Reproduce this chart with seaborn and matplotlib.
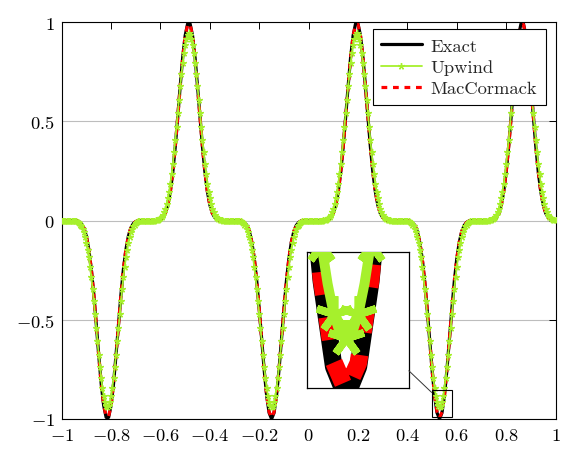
import numpy as np
import pandas as pd
import matplotlib
matplotlib.use("Agg")
import matplotlib.pyplot as plt
from matplotlib.patches import Rectangle
from matplotlib.ticker import FuncFormatter
import seaborn as sns

# sample positions
x_pts = np.round(np.linspace(-1, 1, 201), 3)   # exact / MacCormack, step 0.01
x_up = np.round(np.linspace(-1, 1, 401), 3)    # upwind, step 0.005

# values
exact = [
    0, 0, 0, 0, 0, 0, -0.001, -0.005, -0.015, -0.037,
    -0.079, -0.147, -0.245, -0.373, -0.522, -0.678, -0.822, -0.932, -0.992, -0.992,
    -0.932, -0.822, -0.678, -0.522, -0.373, -0.245, -0.147, -0.079, -0.037, -0.015,
    -0.005, -0.001, 0, 0, 0, 0, 0, 0, 0, 0.001,
    0.005, 0.015, 0.037, 0.079, 0.147, 0.245, 0.373, 0.522, 0.678, 0.822,
    0.932, 0.992, 0.992, 0.932, 0.822, 0.678, 0.522, 0.373, 0.245, 0.147,
    0.079, 0.037, 0.015, 0.005, 0.001, 0, 0, 0, 0, 0,
    0, 0, 0, -0.002, -0.009, -0.024, -0.055, -0.109, -0.192, -0.306,
    -0.446, -0.601, -0.753, -0.882, -0.969, -1.0, -0.969, -0.882, -0.753, -0.601,
    -0.446, -0.306, -0.192, -0.109, -0.055, -0.024, -0.009, -0.002, 0, 0,
    0, 0, 0, 0, 0, 0, 0, 0.001, 0.005, 0.015,
    0.037, 0.079, 0.147, 0.245, 0.373, 0.522, 0.678, 0.822, 0.932, 0.992,
    0.992, 0.932, 0.822, 0.678, 0.522, 0.373, 0.245, 0.147, 0.079, 0.037,
    0.015, 0.005, 0.001, 0, 0, 0, 0, 0, 0, 0,
    0, -0.002, -0.009, -0.024, -0.055, -0.109, -0.192, -0.306, -0.446, -0.601,
    -0.753, -0.882, -0.969, -1.0, -0.969, -0.882, -0.753, -0.601, -0.446, -0.306,
    -0.192, -0.109, -0.055, -0.024, -0.009, -0.002, 0, 0, 0, 0,
    0, 0, 0, 0, 0.001, 0.005, 0.015, 0.037, 0.079, 0.147,
    0.245, 0.373, 0.522, 0.678, 0.822, 0.932, 0.992, 0.992, 0.932, 0.822,
    0.678, 0.522, 0.373, 0.245, 0.147, 0.079, 0.037, 0.015, 0.005, 0.001,
    0,
]

maccormack = [
    0, 0, 0, 0, 0, 0.001, -0.001, -0.006, -0.016, -0.038,
    -0.080, -0.148, -0.246, -0.374, -0.522, -0.677, -0.820, -0.928, -0.986, -0.988,
    -0.930, -0.821, -0.678, -0.523, -0.374, -0.246, -0.147, -0.079, -0.037, -0.015,
    -0.005, -0.001, 0, 0, 0, 0, 0, 0, 0, 0.001,
    0.005, 0.015, 0.037, 0.079, 0.147, 0.245, 0.373, 0.521, 0.676, 0.820,
    0.929, 0.987, 0.988, 0.930, 0.821, 0.678, 0.522, 0.373, 0.245, 0.147,
    0.079, 0.037, 0.015, 0.005, 0.001, 0, 0, 0, 0, 0,
    0, 0, 0, -0.002, -0.009, -0.024, -0.055, -0.109, -0.192, -0.305,
    -0.445, -0.600, -0.751, -0.879, -0.964, -0.993, -0.965, -0.880, -0.752, -0.601,
    -0.446, -0.306, -0.192, -0.109, -0.055, -0.024, -0.009, -0.002, 0, 0,
    0, 0, 0, 0, 0, 0, 0, 0.001, 0.005, 0.015,
    0.037, 0.079, 0.147, 0.245, 0.373, 0.521, 0.676, 0.820, 0.929, 0.987,
    0.988, 0.930, 0.821, 0.678, 0.522, 0.373, 0.245, 0.147, 0.079, 0.037,
    0.015, 0.005, 0.001, 0, 0, 0, 0, 0, 0, 0,
    0, -0.002, -0.009, -0.024, -0.055, -0.109, -0.192, -0.305, -0.445, -0.600,
    -0.751, -0.879, -0.964, -0.993, -0.965, -0.880, -0.752, -0.601, -0.446, -0.306,
    -0.192, -0.109, -0.055, -0.024, -0.009, -0.002, 0, 0, 0, 0,
    0, 0, 0, 0, 0.001, 0.005, 0.015, 0.037, 0.079, 0.147,
    0.245, 0.373, 0.521, 0.676, 0.820, 0.929, 0.987, 0.988, 0.930, 0.821,
    0.678, 0.522, 0.373, 0.245, 0.147, 0.079, 0.037, 0.015, 0.005, 0.001,
    0,
]

upwind = [
    # x = -1.000 ... -0.955
    0, 0, 0, 0, 0, 0, 0, 0, 0, 0,
    # trough near -0.815
    -0.001, -0.002, -0.004, -0.008, -0.012, -0.020, -0.029, -0.043, -0.060, -0.084,
    -0.112, -0.146, -0.185, -0.233, -0.285, -0.344, -0.407, -0.472, -0.540, -0.608,
    -0.677, -0.737, -0.793, -0.844, -0.884, -0.915, -0.934, -0.940, -0.934, -0.915,
    -0.884, -0.844, -0.793, -0.737, -0.677, -0.608, -0.540, -0.472, -0.407, -0.344,
    -0.285, -0.233, -0.185, -0.146, -0.112, -0.084, -0.060, -0.043, -0.029, -0.020,
    -0.012, -0.008, -0.004, -0.002, -0.001,
    0, 0, 0, 0, 0, 0, 0, 0, 0, 0, 0,
    # peak near -0.485
    0.001, 0.002, 0.004, 0.008, 0.012, 0.020, 0.029, 0.043, 0.060, 0.084,
    0.112, 0.146, 0.185, 0.233, 0.285, 0.344, 0.407, 0.472, 0.540, 0.608,
    0.677, 0.737, 0.793, 0.844, 0.884, 0.915, 0.934, 0.945, 0.934, 0.915,
    0.884, 0.844, 0.793, 0.737, 0.677, 0.608, 0.540, 0.472, 0.407, 0.344,
    0.285, 0.233, 0.185, 0.146, 0.112, 0.084, 0.060, 0.043, 0.029, 0.020,
    0.012, 0.008, 0.004, 0.002, 0.001,
    0, 0, 0, 0, 0, 0, 0, 0, 0, 0, 0, 0,
    # trough near -0.15
    -0.001, -0.002, -0.004, -0.008, -0.012, -0.020, -0.029, -0.043, -0.060, -0.084,
    -0.112, -0.146, -0.185, -0.233, -0.285, -0.344, -0.407, -0.472, -0.540, -0.608,
    -0.677, -0.737, -0.793, -0.844, -0.884, -0.915, -0.934, -0.940, -0.934, -0.915,
    -0.884, -0.844, -0.793, -0.737, -0.677, -0.608, -0.540, -0.472, -0.407, -0.344,
    -0.285, -0.233, -0.185, -0.146, -0.112, -0.084, -0.060, -0.043, -0.029, -0.020,
    -0.012, -0.008, -0.004, -0.002, -0.001,
    0, 0, 0, 0, 0, 0, 0, 0, 0, 0, 0, 0, 0, 0,
    # peak near 0.195
    0.001, 0.002, 0.004, 0.008, 0.012, 0.020, 0.029, 0.043, 0.060, 0.084,
    0.112, 0.146, 0.185, 0.233, 0.285, 0.344, 0.407, 0.472, 0.540, 0.608,
    0.677, 0.737, 0.793, 0.844, 0.884, 0.915, 0.934, 0.945, 0.934, 0.915,
    0.884, 0.844, 0.793, 0.737, 0.677, 0.608, 0.540, 0.472, 0.407, 0.344,
    0.285, 0.233, 0.185, 0.146, 0.112, 0.084, 0.060, 0.043, 0.029, 0.020,
    0.012, 0.008, 0.004, 0.002, 0.001,
    0, 0, 0, 0, 0, 0, 0, 0, 0, 0, 0, 0,
    # trough near 0.53
    -0.001, -0.002, -0.004, -0.008, -0.012, -0.020, -0.029, -0.043, -0.060, -0.084,
    -0.112, -0.146, -0.185, -0.233, -0.285, -0.344, -0.407, -0.472, -0.540, -0.608,
    -0.677, -0.737, -0.793, -0.844, -0.884, -0.915, -0.934, -0.940, -0.934, -0.915,
    -0.884, -0.844, -0.793, -0.737, -0.677, -0.608, -0.540, -0.472, -0.407, -0.344,
    -0.285, -0.233, -0.185, -0.146, -0.112, -0.084, -0.060, -0.043, -0.029, -0.020,
    -0.012, -0.008, -0.004, -0.002, -0.001,
    0, 0, 0, 0, 0, 0, 0, 0, 0, 0, 0, 0,
    # peak near 0.865
    0.001, 0.002, 0.004, 0.008, 0.012, 0.020, 0.029, 0.043, 0.060, 0.084,
    0.112, 0.146, 0.185, 0.233, 0.285, 0.344, 0.407, 0.472, 0.540, 0.608,
    0.677, 0.737, 0.793, 0.844, 0.884, 0.915, 0.934, 0.945, 0.934, 0.915,
    0.884, 0.844, 0.793, 0.737, 0.677, 0.608, 0.540, 0.472, 0.407, 0.344,
    0.285, 0.233, 0.185, 0.146, 0.112, 0.084, 0.060, 0.043, 0.029, 0.020,
    0.012, 0.008, 0.004, 0.002, 0.001,
]

x_ticks = [-1, -0.8, -0.6, -0.4, -0.2, 0, 0.2, 0.4, 0.6, 0.8, 1]
y_ticks = [-1, -0.5, 0, 0.5, 1]

GREEN = '#A6F02C'

sns.set_theme(style='white')
plt.rcParams['font.family'] = 'serif'
plt.rcParams['font.serif'] = ['cmr10', 'DejaVu Serif']
plt.rcParams['mathtext.fontset'] = 'cm'
plt.rcParams['axes.formatter.use_mathtext'] = True

df = pd.DataFrame({'x': x_pts, 'Exact': exact, 'MacCormack': maccormack})
df_up = pd.DataFrame({'x': x_up, 'Upwind': upwind})


def draw_curves(ax, k, dash, every, with_labels):
    lab = (lambda s: s) if with_labels else (lambda s: None)
    sns.lineplot(data=df, x='x', y='Exact', ax=ax, color='black', lw=2.3 * k,
                 label=lab('Exact'), legend=False, zorder=2)
    sns.lineplot(data=df, x='x', y='MacCormack', ax=ax, color='#FF0000', lw=2.3 * k,
                 linestyle=(0, dash), label=lab('MacCormack'), legend=False, zorder=3)
    sns.lineplot(data=df_up, x='x', y='Upwind', ax=ax, color=GREEN, lw=1.3 * k,
                 marker=(5, 2, 0), markersize=4.8 * k, markeredgewidth=1.0 * k,
                 markeredgecolor=GREEN, markerfacecolor=GREEN, markevery=every,
                 label=lab('Upwind'), legend=False, zorder=4)


fig = plt.figure(figsize=(5.69, 4.52), dpi=100)
ax = fig.add_axes([0.1084, 0.0708, 0.868, 0.878])

draw_curves(ax, 1, (1.8, 1.8), 1, True)

ax.set_xlim(-1, 1)
ax.set_ylim(-1, 1)
ax.set_xticks(x_ticks)
ax.set_yticks(y_ticks)
fmt = FuncFormatter(lambda v, p: f'${v:g}$')
ax.xaxis.set_major_formatter(fmt)
ax.yaxis.set_major_formatter(fmt)
ax.set_xlabel('')
ax.set_ylabel('')
ax.tick_params(direction='in', length=5, width=0.7, top=True, right=True,
               labelsize=13.3, pad=5, colors='black')
ax.tick_params(axis='x', pad=6)
ax.yaxis.grid(True, color='#BDBDBD', lw=0.8)
ax.xaxis.grid(False)
ax.set_axisbelow(True)
for s in ax.spines.values():
    s.set_color('black')
    s.set_linewidth(0.8)

# legend
h, l = ax.get_legend_handles_labels()
order = [l.index('Exact'), l.index('Upwind'), l.index('MacCormack')]
leg = ax.legend([h[i] for i in order], [l[i] for i in order],
                loc='upper right', bbox_to_anchor=(0.98, 0.982), borderaxespad=0,
                frameon=True, fancybox=False, edgecolor='black', framealpha=1,
                handlelength=2.2, labelspacing=0.3, borderpad=0.45,
                handletextpad=0.5, fontsize=13.3)
leg.get_frame().set_linewidth(0.8)

# spy box and magnified inset
zx0, zx1, zy0, zy1 = 0.498, 0.581, -0.991, -0.852
ax.add_patch(Rectangle((zx0, zy0), zx1 - zx0, zy1 - zy0, fill=False,
                       ec='black', lw=0.8, zorder=6))
ax.plot([0.406, zx0], [-0.757, -0.866], color='#333333', lw=0.7, zorder=6)

axin = ax.inset_axes([0.496, 0.0773, 0.207, 0.3426])
axin.set_facecolor('white')
draw_curves(axin, 5.5, (1.3, 1.3), 2, False)
axin.set_xlim(zx0, zx1)
axin.set_ylim(zy0, zy1)
axin.set_xticks([])
axin.set_yticks([])
axin.set_xlabel('')
axin.set_ylabel('')
axin.grid(False)
for s in axin.spines.values():
    s.set_color('black')
    s.set_linewidth(0.9)

fig.savefig('out.png', dpi=100)
